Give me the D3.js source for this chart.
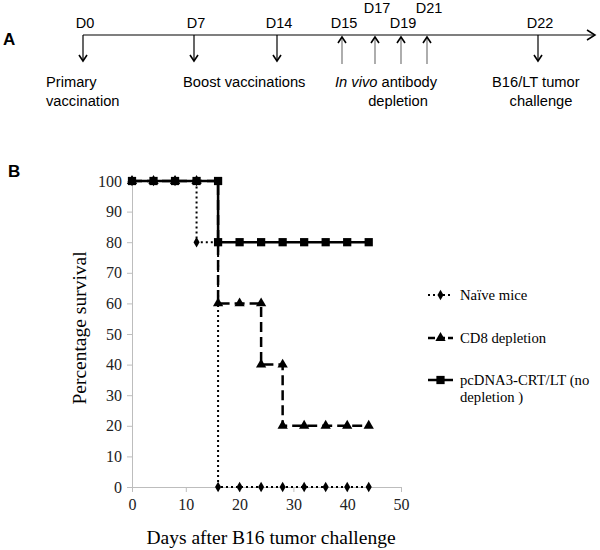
<!DOCTYPE html>
<html><head><meta charset="utf-8">
<script src="https://cdn.jsdelivr.net/npm/d3@7"></script>
<style>body{margin:0;background:#fff}svg{display:block}</style>
</head><body>
<svg id="c" width="600" height="550"></svg>
<script>
// Panel A timeline
const timelineDays = ["D0","D7","D14","D15","D17","D19","D21","D22"];
const timelineX = [0,7,14,15,17,19,21,22];
const arrowDir = ["down","down","down","up","up","up","up","down"];
const labelRaised = [false,false,false,false,true,false,true,false];

// Panel B data: marker values
const days = [0,4,8,12,16,20,24,28,32,36,40,44];
const naive = [100,100,100,100,0,0,0,0,0,0,0,0];
const naiveExtra = [[12,80]];
const cd8 = [100,100,100,100,60,60,60,20,20,20,20,20];
const cd8Extra = [[24,40],[28,40]];
const pc = [100,100,100,100,80,80,80,80,80,80,80,80];
const pcExtra = [[16,100]];
// survival step curves (time, value)
const naiveStepT = [0,12,16,44];
const naiveStepV = [100,80,0,0];
const cd8StepT = [0,16,24,28,44];
const cd8StepV = [100,60,40,20,20];
const pcStepT = [0,16,44];
const pcStepV = [100,80,80];
const seriesNames = ["Naïve mice","CD8 depletion","pcDNA3-CRT/LT (no","depletion )"];
const xTicks = [0,10,20,30,40,50];
const yTicks = [0,10,20,30,40,50,60,70,80,90,100];

const svg = d3.select("#c");
const sans = "Liberation Sans, Arial, sans-serif";
const serif = "Liberation Serif, Times New Roman, serif";

// ---------- Panel A ----------
const A = svg.append("g");
A.append("text").attr("x",3).attr("y",45).attr("font-family",sans).attr("font-weight","bold").attr("font-size",17).text("A");
const tl = d3.scaleLinear().domain([0,7,14,15,17,19,21,22]).range([83,194,277,342,375,401,427,538]);
const lineY = 35;
A.append("line").attr("x1",tl(0)).attr("x2",595).attr("y1",lineY).attr("y2",lineY).attr("stroke","#000").attr("stroke-width",1.2);
A.append("path").attr("d",`M587,${lineY-5} L595,${lineY} L587,${lineY+5}`).attr("fill","none").attr("stroke","#000").attr("stroke-width",1.5);
timelineX.forEach((d,i)=>{
  const x = tl(d);
  if(arrowDir[i]==="down"){
    A.append("line").attr("x1",x).attr("x2",x).attr("y1",lineY).attr("y2",61).attr("stroke","#000").attr("stroke-width",1.2);
    A.append("path").attr("d",`M${x-4},${55} L${x},${61} L${x+4},${55}`).attr("fill","none").attr("stroke","#000").attr("stroke-width",1.6);
  } else {
    A.append("line").attr("x1",x).attr("x2",x).attr("y1",lineY+2).attr("y2",64).attr("stroke","#777").attr("stroke-width",1.2);
    A.append("path").attr("d",`M${x-4},${lineY+8} L${x},${lineY+2} L${x+4},${lineY+8}`).attr("fill","none").attr("stroke","#000").attr("stroke-width",1.6);
  }
  A.append("text").attr("x",x+2).attr("y",labelRaised[i]?13:28)
    .attr("text-anchor","middle").attr("font-family",sans).attr("font-size",14.5).text(timelineDays[i]);
});
function at(x,y,t,anchor){
  return A.append("text").attr("x",x).attr("y",y).attr("text-anchor",anchor||"start")
    .attr("font-family",sans).attr("font-size",14.7).text(t);
}
at(46,87,"Primary"); at(46,106,"vaccination");
at(183,87,"Boost vaccinations");
const iv = at(335,87,""); iv.append("tspan").attr("font-style","italic").text("In vivo"); iv.append("tspan").text(" antibody");
at(398,106,"depletion","middle");
at(492,87,"B16/LT tumor"); at(541,106,"challenge","middle");

// ---------- Panel B ----------
svg.append("text").attr("x",8).attr("y",177).attr("font-family",sans).attr("font-weight","bold").attr("font-size",17).text("B");
const x = d3.scaleLinear().domain([0,50]).range([132,401]);
const y = d3.scaleLinear().domain([0,100]).range([487,181]);

const gx = svg.append("g").attr("transform",`translate(0,${y(0)})`).call(d3.axisBottom(x).tickValues(xTicks).tickSize(5).tickPadding(7));
const gy = svg.append("g").attr("transform",`translate(${x(0)},0)`).call(d3.axisLeft(y).tickValues(yTicks).tickSize(5).tickPadding(5));
[gx,gy].forEach(g=>{
  g.select(".domain").attr("stroke","#bdbdbd");
  g.selectAll(".tick line").attr("stroke","#bdbdbd");
  g.selectAll(".tick text").attr("font-family",serif).attr("font-size",16).attr("fill","#222");
});
svg.append("text").attr("x",271).attr("y",544).attr("text-anchor","middle").attr("font-family",serif).attr("font-size",19.5).text("Days after B16 tumor challenge");
svg.append("text").attr("transform",`translate(86,328) rotate(-90)`).attr("text-anchor","middle").attr("font-family",serif).attr("font-size",19.5).text("Percentage survival");

const stepLine = d3.line().x(d=>x(d[0])).y(d=>y(d[1])).curve(d3.curveStepAfter);
const series = [
  {T:naiveStepT, V:naiveStepV, vals:naive, extra:naiveExtra, dash:"2,3", width:2, marker:"diamond"},
  {T:cd8StepT, V:cd8StepV, vals:cd8, extra:cd8Extra, dash:"10,5", width:2.5, marker:"triangle"},
  {T:pcStepT, V:pcStepV, vals:pc, extra:pcExtra, dash:null, width:2.5, marker:"square"}
];
const sym = {
  diamond: d3.symbol().type(d3.symbolDiamond).size(32),
  triangle: d3.symbol().type(d3.symbolTriangle).size(46),
  square: d3.symbol().type(d3.symbolSquare).size(68)
};
series.forEach(s=>{
  const p = svg.append("path").attr("d",stepLine(s.T.map((t,i)=>[t,s.V[i]]))).attr("fill","none").attr("stroke","#000").attr("stroke-width",s.width);
  if(s.dash) p.attr("stroke-dasharray",s.dash);
});
series.forEach(s=>{
  const mp = days.map((d,j)=>[d,s.vals[j]]).concat(s.extra);
  svg.append("g").selectAll("path").data(mp).join("path")
    .attr("transform",d=>`translate(${x(d[0])},${y(d[1])})`)
    .attr("d",sym[s.marker]()).attr("fill","#000");
});

// Legend
const legY = [295,338,380];
series.forEach((s,i)=>{
  const g = svg.append("g").attr("transform",`translate(428,${legY[i]})`);
  const l = g.append("line").attr("x1",0).attr("x2",25).attr("stroke","#000").attr("stroke-width",s.width);
  if(s.dash) l.attr("stroke-dasharray",s.dash==="10,5"?"7,3":s.dash);
  g.append("path").attr("transform","translate(12.5,0)").attr("d",sym[s.marker]()).attr("fill","#000");
});
const legT = svg.append("g").attr("font-family",serif).attr("font-size",14.7);
legT.append("text").attr("x",460).attr("y",legY[0]+5).text(seriesNames[0]);
legT.append("text").attr("x",460).attr("y",legY[1]+5).text(seriesNames[1]);
legT.append("text").attr("x",460).attr("y",legY[2]+5).text(seriesNames[2]);
legT.append("text").attr("x",460).attr("y",legY[2]+22).text(seriesNames[3]);
</script>
</body></html>
